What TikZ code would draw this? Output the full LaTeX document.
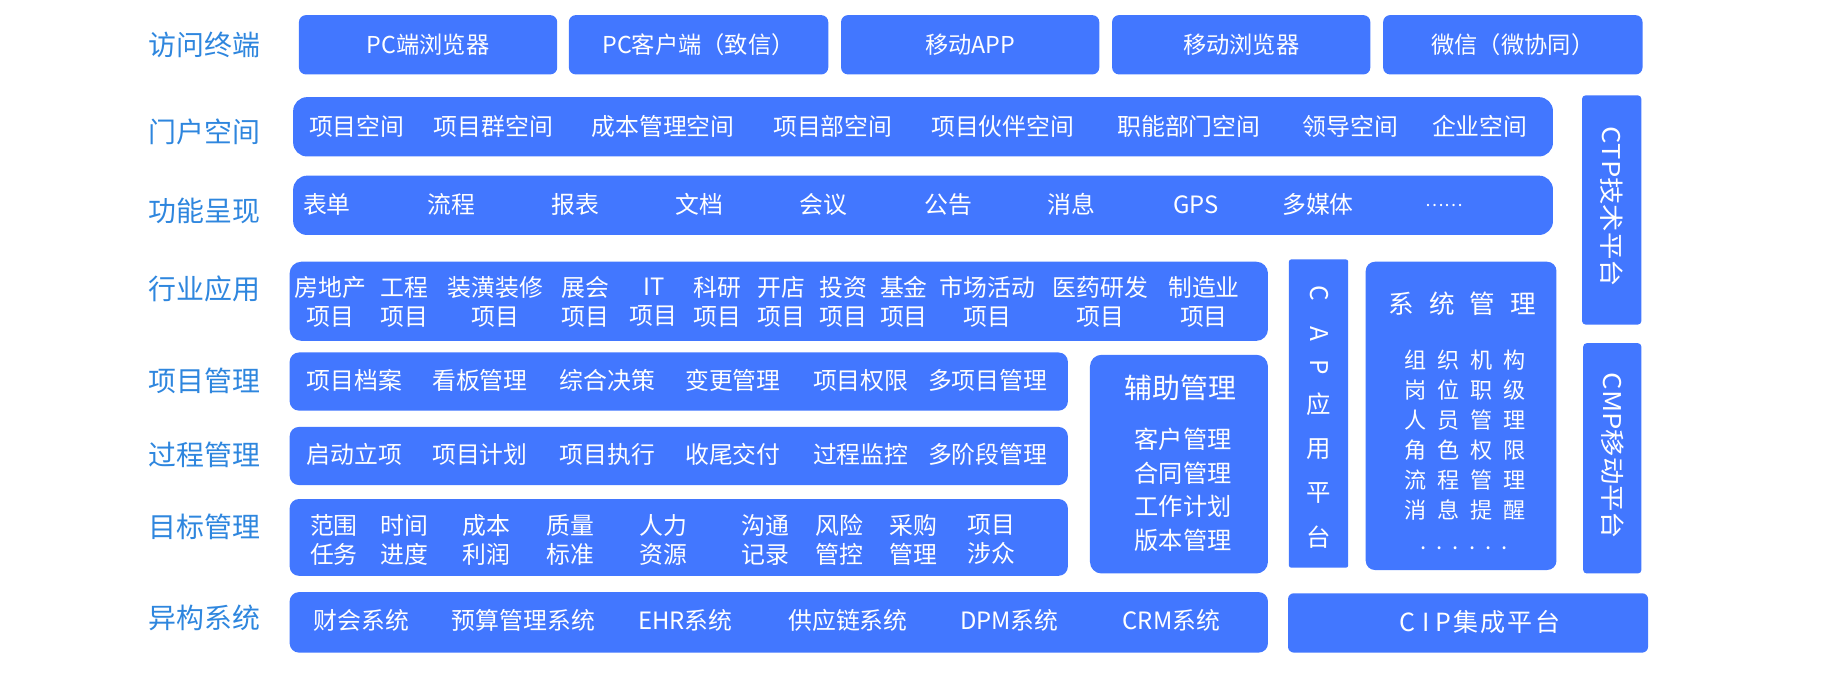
\documentclass[tikz,border=0pt]{standalone}
\usepackage{graphicx}
\usepackage{fontspec}
\setmainfont{Noto Sans CJK SC}
\definecolor{boxblue}{RGB}{66,119,255}
\definecolor{lblblue}{RGB}{46,134,222}
\newcommand\fz[2]{\fontsize{#1}{#2}\selectfont}
\begin{document}
\begin{tikzpicture}[x=1pt,y=-1pt,
  blk/.style={fill=boxblue, draw=none, inner sep=0pt, rounded corners=#1},
  blk/.default=6pt,
  lbl/.style={text=lblblue, inner sep=0pt, font=\fz{24}{28}},
  itm/.style={text=white, inner sep=0pt, font=\fz{20.5}{25}, align=center},
  vchar/.style={text=white, inner sep=0pt, font=\fz{21}{25}}]
\useasboundingbox (0,0) rectangle (1568,578);

% left labels
\foreach \t/\y [count=\i] in {访问终端/39,门户空间/113,功能呈现/181,行业应用/248,项目管理/327,过程管理/391,目标管理/453,异构系统/531}
  \node[lbl] (L\i) at (175.5,\y) {\t};

% row 1: terminals
\foreach \t/\x/\w [count=\i] in {PC端浏览器/368/222,PC客户端（致信）/600.5/223,移动APP/834/222,移动浏览器/1067/222,微信（微协同）/1300.5/223}
  \node[blk=6pt, minimum width=\w pt, minimum height=51pt, itm, font=\fz{20}{24}] (T\i) at (\x,38.5) {\t};

% row 2: portal
\node[blk=12pt, minimum width=1083pt, minimum height=51pt] (R2) at (793.5,109) {};
\foreach \t/\x [count=\i] in {项目空间/306.7,项目群空间/424,成本管理空间/570,项目部空间/716,项目伙伴空间/862,职能部门空间/1022,领导空间/1161,企业空间/1272}
  \node[itm] (R2i\i) at (\x,109) {\t};

% row 3: functions
\node[blk=12pt, minimum width=1083pt, minimum height=51pt] (R3) at (793.5,176.5) {};
\foreach \t/\x [count=\i] in {表单/281,流程/388,报表/494.5,文档/601.5,会议/708,公告/815,消息/921,GPS/1028,多媒体/1133}
  \node[itm] (R3i\i) at (\x,176) {\t};
\node[itm, font=\fz{15}{18}] (R3dots) at (1241.6,177) {……};

% row 4: industries
\node[blk=10pt, minimum width=841pt, minimum height=68pt] (R4) at (669.5,259) {};
\foreach \t/\x [count=\i] in {{房地产\\项目}/284,{工程\\项目}/348,{装潢装修\\项目}/426,{展会\\项目}/503.5,{IT\\项目}/562,{科研\\项目}/616.5,{开店\\项目}/671.5,{投资\\项目}/725,{基金\\项目}/777,{市场活动\\项目}/849,{医药研发\\项目}/946,{制造业\\项目}/1035}
  \node[itm] (R4i\i) at (\x,259.5) {\t};

% row 5: project management
\node[blk=8pt, minimum width=669pt, minimum height=50pt] (R5) at (583.5,328) {};
\foreach \t/\x [count=\i] in {项目档案/304.5,看板管理/412.5,综合决策/522,变更管理/630,项目权限/740,多项目管理/849}
  \node[itm] (R5i\i) at (\x,327) {\t};

% row 6: process management
\node[blk=8pt, minimum width=669pt, minimum height=50pt] (R6) at (583.5,392) {};
\foreach \t/\x [count=\i] in {启动立项/304.5,项目计划/412.5,项目执行/522,收尾交付/630,过程监控/740,多阶段管理/849}
  \node[itm] (R6i\i) at (\x,391) {\t};

% row 7: goal management
\node[blk=8pt, minimum width=669pt, minimum height=66pt] (R7) at (583.5,462) {};
\foreach \t/\x [count=\i] in {{范围\\任务}/287,{时间\\进度}/348,{成本\\利润}/418,{质量\\标准}/490,{人力\\资源}/570,{沟通\\记录}/658,{风险\\管控}/721.5,{采购\\管理}/785,{项目\\涉众}/852}
  \node[itm] (R7i\i) at (\x,464) {\t};

% row 8: heterogeneous systems
\node[blk=8pt, minimum width=841pt, minimum height=52pt] (R8) at (669.5,535) {};
\foreach \t/\x [count=\i] in {财会系统/310.7,预算管理系统/450,EHR系统/589,供应链系统/729,DPM系统/867.7,CRM系统/1007}
  \node[itm] (R8i\i) at (\x,533) {\t};

% auxiliary management
\node[blk=10pt, minimum width=153pt, minimum height=188pt] (AX) at (1013.5,399) {};
\node[itm, font=\fz{24}{28}] (AXt) at (1014.5,333.5) {辅助管理};
\node[itm, font=\fz{20.8}{29}] (AXi) at (1017,421) {客户管理\\合同管理\\工作计划\\版本管理};

% CAP platform
\node[blk=2pt, minimum width=51pt, minimum height=265pt] (CAP) at (1133.5,355.5) {};
\node[vchar, rotate=-90] (CAPc) at (1134,252) {C};
\node[vchar, rotate=-90] (CAPa) at (1134,287) {A};
\node[vchar, rotate=-90] (CAPp) at (1134,316) {P};
\foreach \t/\y [count=\i] in {应/347.4,用/386.3,平/424.2,台/461.5}
  \node[vchar] (CAPz\i) at (1134,\y) {\t};

% system management
\node[blk=8pt, minimum width=164pt, minimum height=265pt] (SM) at (1256,357.5) {};
\node[itm, font=\fz{22}{26}] (SMt) at (1257,261) {系\hspace{13pt}统\hspace{13pt}管\hspace{13pt}理};
\node[itm, font=\fz{19}{25.8}] (SMi) at (1259.5,374) {组\hspace{9.5pt}织\hspace{9.5pt}机\hspace{9.5pt}构\\岗\hspace{9.5pt}位\hspace{9.5pt}职\hspace{9.5pt}级\\人\hspace{9.5pt}员\hspace{9.5pt}管\hspace{9.5pt}理\\角\hspace{9.5pt}色\hspace{9.5pt}权\hspace{9.5pt}限\\流\hspace{9.5pt}程\hspace{9.5pt}管\hspace{9.5pt}理\\消\hspace{9.5pt}息\hspace{9.5pt}提\hspace{9.5pt}醒};
\node[itm, font=\fz{19}{22}, anchor=base] (SMd) at (1258.5,472) {.\hspace{8.7pt}.\hspace{8.7pt}.\hspace{8.7pt}.\hspace{8.7pt}.\hspace{8.7pt}.};

% CTP / CMP platforms
\node[blk=3pt, minimum width=51pt, minimum height=197pt] (CTP) at (1385.5,180.5) {};
\node[itm, font=\fz{21}{25}, rotate=-90] (CTPt) at (1385.5,177.7) {\scalebox{1.12}[1]{CTP技术平台}};
\node[blk=3pt, minimum width=50pt, minimum height=198pt] (CMP) at (1386,394) {};
\node[itm, font=\fz{21}{25}, rotate=-90] (CMPt) at (1386,392) {\scalebox{1.12}[1]{CMP移动平台}};

% CIP platform
\node[blk=5pt, minimum width=309.5pt, minimum height=51pt] (CIP) at (1262,535.5) {};
\node[itm, font=\fz{21.5}{25}] (CIPt) at (1272,535) {C\hspace{6pt}I\hspace{5pt}P\hspace{1.5pt}集\hspace{2pt}成\hspace{2pt}平\hspace{2pt}台};
\end{tikzpicture}
\end{document}
